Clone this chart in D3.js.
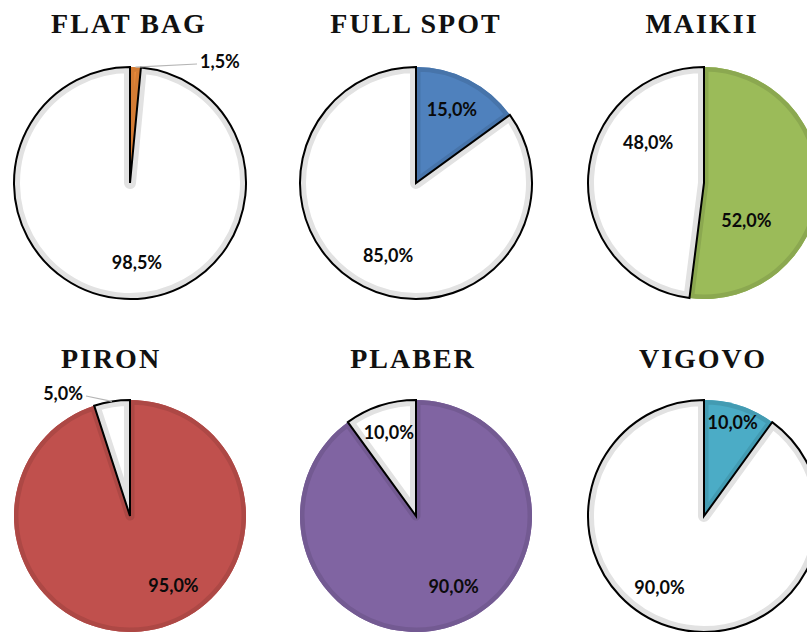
<!DOCTYPE html>
<html>
<head>
<meta charset="utf-8">
<script src="https://cdn.jsdelivr.net/npm/d3@7"></script>
<style>
  html, body { margin: 0; padding: 0; background: #fff; }
  svg { display: block; }
</style>
</head>
<body>
<svg id="chart" width="807" height="632"></svg>
<script>
// ---- data ----
const brands = ["FLAT BAG", "FULL SPOT", "MAIKII", "PIRON", "PLABER", "VIGOVO"];
const shareValues = [1.5, 15.0, 52.0, 95.0, 90.0, 10.0];          // coloured slice (%)
const otherValues = [98.5, 85.0, 48.0, 5.0, 10.0, 90.0];           // white slice (%)
const sliceColors = ["#EC8A3A", "#4F81BD", "#9BBB59", "#C0504D", "#8064A2", "#4BACC6"];

// ---- layout (positions / styles) ----
const colX = [130, 416, 704];
const rowY = [183, 516];
const radius = 116;
const titleX = [129, 416, 702, 111, 413, 703];
const titleY = [33, 368];
// label polar positions: [angleDeg, dist] for [coloured, white]; null => outside label
const labelPolar = [
  [null, [175, 80]],
  [[26, 82], [201, 78]],
  [[132, 57], [306, 69]],
  [[148, 82], null],
  [[152, 80], [342, 88]],
  [[17, 98], [212, 84]]
];
// outside labels: [dx, dy (baseline), anchor]
const outsideLabel = [
  [[70, -115, "start"], null],
  null, null,
  [null, [-47, -116, "end"]],
  null, null
];

const svg = d3.select("#chart");
const fmt = v => d3.format(".1f")(v).replace(".", ",") + "%";

const pie = d3.pie().sort(null).value(d => d.v);
const arc = d3.arc().innerRadius(0).outerRadius(radius);
const defs = svg.append("defs");

brands.forEach((name, i) => {
  const cx = colX[i % 3], cy = rowY[Math.floor(i / 3)];
  const g = svg.append("g").attr("transform", `translate(${cx},${cy})`);
  const data = [
    { v: shareValues[i], fill: sliceColors[i], band: d3.color(sliceColors[i]).darker(0.3).formatHex(), white: false },
    { v: otherValues[i], fill: "#ffffff", band: "#e2e2e2", white: true }
  ];
  const arcs = pie(data);

  arcs.forEach((a, j) => {
    const id = `clip-${i}-${j}`;
    defs.append("clipPath").attr("id", id).append("path")
      .attr("transform", `translate(${cx},${cy})`)
      .attr("d", arc(a));
    g.append("path").attr("d", arc(a)).attr("fill", a.data.fill);
    g.append("g").attr("clip-path", `url(#${id})`)
      .attr("transform", `translate(${-cx},${-cy})`)
      .append("path")
      .attr("transform", `translate(${cx},${cy})`)
      .attr("d", arc(a))
      .attr("fill", "none")
      .attr("stroke", a.data.band)
      .attr("stroke-width", a.data.white ? 12 : 9)
      .attr("stroke-linejoin", "round");
  });
  // black outline around the white slice
  arcs.filter(a => a.data.white).forEach(a => {
    g.append("path").attr("d", arc(a))
      .attr("fill", "none").attr("stroke", "#000").attr("stroke-width", 2)
      .attr("stroke-linejoin", "miter");
  });

  // labels
  arcs.forEach((a, j) => {
    const pol = labelPolar[i][j];
    const txt = fmt(a.data.v);
    if (pol) {
      const ang = pol[0] * Math.PI / 180;
      g.append("text")
        .attr("x", Math.sin(ang) * pol[1])
        .attr("y", -Math.cos(ang) * pol[1])
        .attr("dy", "0.35em")
        .attr("text-anchor", "middle")
        .attr("font-family", "Lato, 'Open Sans', sans-serif")
        .attr("font-weight", "bold")
        .attr("font-size", 18)
        .attr("fill", "#0a0a0a")
        .text(txt);
    } else {
      const o = outsideLabel[i][j];
      const mid = (a.startAngle + a.endAngle) / 2;
      const p0 = [Math.sin(mid) * radius, -Math.cos(mid) * radius];
      const px = o[2] === "start" ? o[0] - 3 : o[0] + 3;
      g.append("polyline")
        .attr("points", [p0, [px, o[1] - 4]].map(p => p.join(",")).join(" "))
        .attr("fill", "none").attr("stroke", "#b5b5b5").attr("stroke-width", 1.2);
      g.append("text")
        .attr("x", o[0]).attr("y", o[1])
        .attr("text-anchor", o[2])
        .attr("font-family", "Lato, 'Open Sans', sans-serif")
        .attr("font-weight", "bold")
        .attr("font-size", 18)
        .attr("fill", "#0a0a0a")
        .text(txt);
    }
  });

  svg.append("text")
    .attr("x", titleX[i])
    .attr("y", titleY[Math.floor(i / 3)])
    .attr("text-anchor", "middle")
    .attr("font-family", "'Liberation Serif', 'Times New Roman', serif")
    .attr("font-weight", "bold")
    .attr("font-size", 28)
    .attr("letter-spacing", 2)
    .attr("fill", "#111")
    .text(name);
});
</script>
</body>
</html>
